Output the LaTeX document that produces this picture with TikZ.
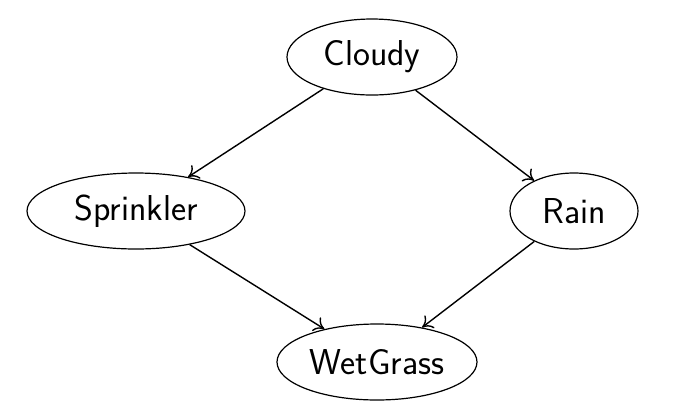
\documentclass[tikz,border=0pt]{standalone}
\usepackage{tikz}
\usetikzlibrary{shapes.geometric, arrows.meta}

\begin{document}
\begin{tikzpicture}[
    x=1pt, y=1pt,
    var/.style={draw, ellipse, line width=0.6pt, inner sep=0pt, minimum height=38pt, font=\fontsize{18}{22}\selectfont\sffamily},
    edge/.style={-{To[length=5pt, width=8pt]}, line width=0.7pt}
]
    \useasboundingbox (0, 0) rectangle (346, -207);

    % variables
    \node[var, minimum width=85pt]  (cloudy)    at (186, -28.5)  {Cloudy};
    \node[var, minimum width=109pt] (sprinkler) at (68, -105.5)  {Sprinkler};
    \node[var, minimum width=64pt]  (rain)      at (287, -105.5) {Rain};
    \node[var, minimum width=100pt] (wetgrass)  at (188.5, -181) {WetGrass};

    % dependencies
    \draw[edge] (cloudy) -- (sprinkler);
    \draw[edge] (cloudy) -- (rain);
    \draw[edge] (sprinkler) -- (wetgrass);
    \draw[edge] (rain) -- (wetgrass);
\end{tikzpicture}
\end{document}
